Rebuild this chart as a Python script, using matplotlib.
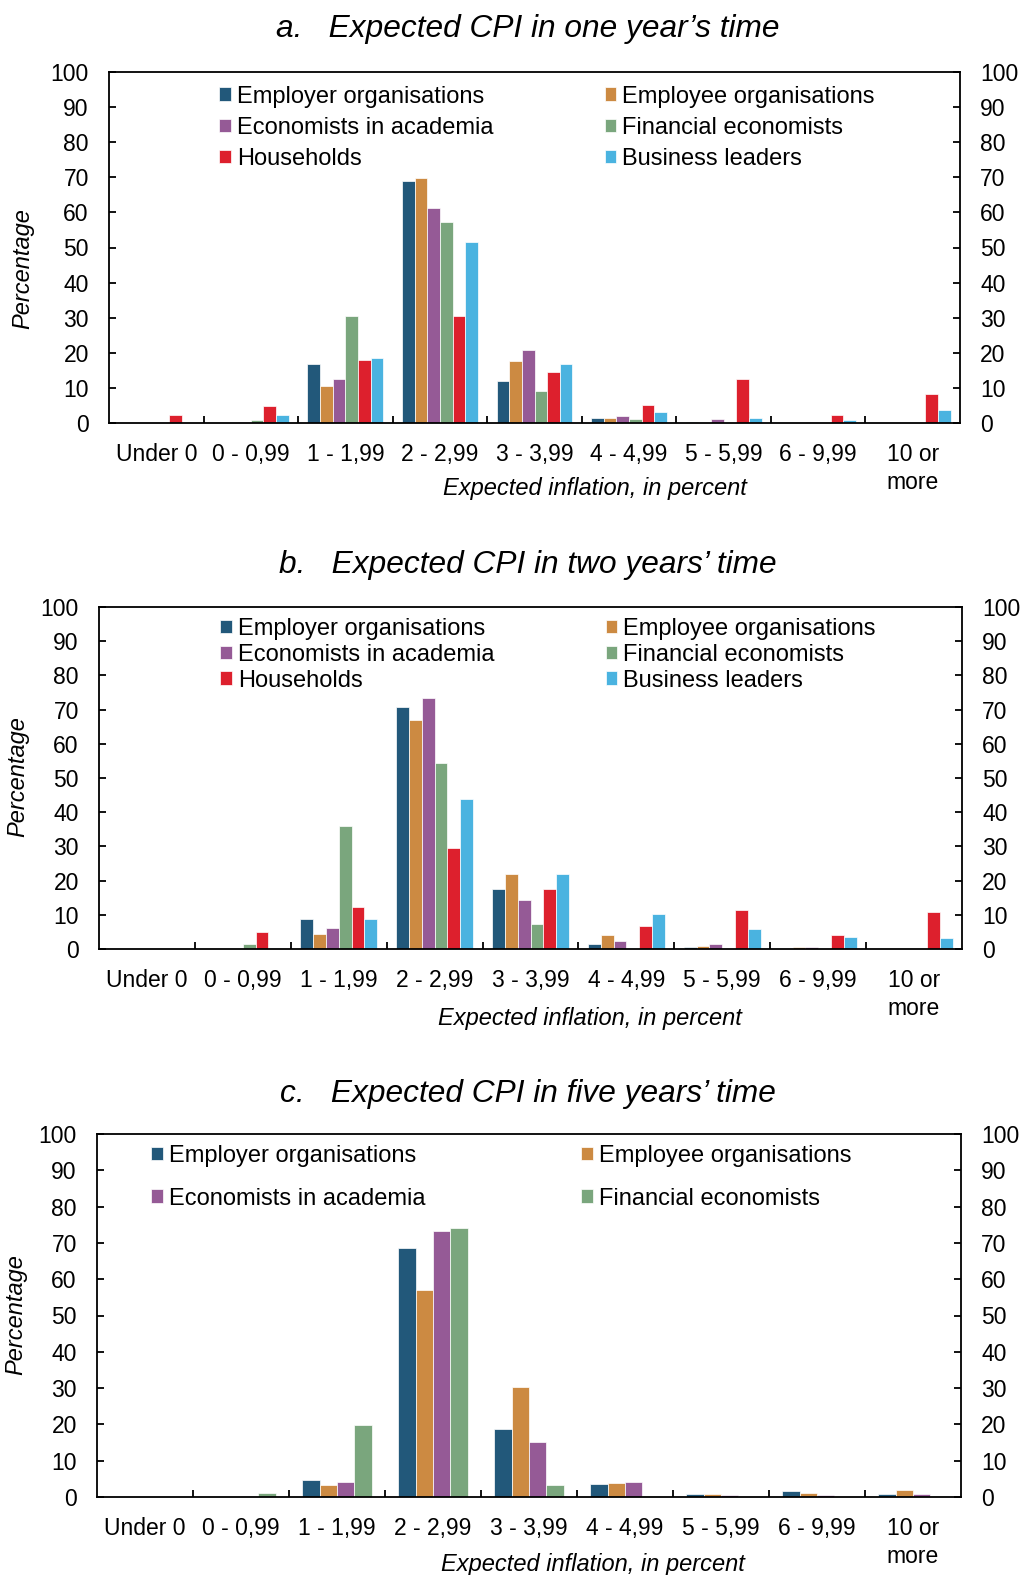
import matplotlib
matplotlib.use("Agg")
import matplotlib.pyplot as plt
import numpy as np

plt.rcParams['font.family'] = ['Liberation Sans', 'DejaVu Sans']

categories = ["Under 0", "0 - 0,99", "1 - 1,99", "2 - 2,99", "3 - 3,99",
              "4 - 4,99", "5 - 5,99", "6 - 9,99", "10 or\nmore"]

series_names = ["Employer organisations", "Employee organisations",
                "Economists in academia", "Financial economists",
                "Households", "Business leaders"]
colors = ["#22587A", "#CC8A42", "#955A96", "#7AA67D", "#DD202D", "#4AB3E0"]

# Panel a: one year
a_employer  = [0.0, 0.0, 16.8, 68.9, 12.0, 1.4, 0.2, 0.0, 0.0]
a_employee  = [0.0, 0.0, 10.4, 69.8, 17.6, 1.4, 0.0, 0.0, 0.0]
a_academia  = [0.0, 0.3, 12.6, 61.2, 20.8, 2.1, 1.1, 0.4, 0.0]
a_financial = [0.0, 0.9, 30.5, 57.3, 9.0, 1.2, 0.0, 0.0, 0.0]
a_household = [2.2, 4.8, 18.0, 30.6, 14.4, 5.1, 12.5, 2.3, 8.4]
a_business  = [0.0, 2.3, 18.5, 51.7, 16.9, 3.1, 1.5, 0.8, 3.7]

# Panel b: two years
b_employer  = [0.0, 0.0, 8.7, 70.8, 17.5, 1.4, 0.6, 0.0, 0.0]
b_employee  = [0.0, 0.0, 4.4, 66.9, 21.8, 4.0, 1.0, 0.7, 0.0]
b_academia  = [0.0, 0.0, 6.1, 73.4, 14.4, 2.3, 1.4, 0.6, 0.0]
b_financial = [0.0, 1.6, 36.0, 54.3, 7.2, 0.0, 0.0, 0.0, 0.0]
b_household = [0.1, 5.1, 12.3, 29.5, 17.5, 6.7, 11.5, 4.2, 10.8]
b_business  = [0.0, 0.4, 8.9, 43.9, 21.9, 10.2, 5.8, 3.6, 3.2]

# Panel c: five years
c_employer  = [0.0, 0.0, 4.7, 68.5, 18.8, 3.5, 0.8, 1.7, 0.8]
c_employee  = [0.0, 0.0, 3.4, 57.1, 30.4, 3.9, 0.8, 1.2, 2.0]
c_academia  = [0.0, 0.2, 4.1, 73.4, 15.1, 4.2, 0.5, 0.5, 0.7]
c_financial = [0.0, 1.2, 19.9, 74.0, 3.2, 0.2, 0.0, 0.0, 0.2]

titles = ["a.   Expected CPI in one year\u2019s time",
          "b.   Expected CPI in two years\u2019 time",
          "c.   Expected CPI in five years\u2019 time"]
yticks = list(range(0, 101, 10))

W, H = 1024, 1575
fig = plt.figure(figsize=(W / 100, H / 100), dpi=100)


def fx(x):
    return x / W


def fy(y):
    return 1 - y / H


panels = [
    dict(data=[a_employer, a_employee, a_academia, a_financial, a_household, a_business],
         box=(109, 960, 72, 423), total=0.803,
         leg=(219, 85.5, 0.39, 4.72), title_y=37, ylab=(23, 269),
         xlab=(595, 495)),
    dict(data=[b_employer, b_employee, b_academia, b_financial, b_household, b_business],
         box=(99, 962, 607, 949), total=0.803,
         leg=(220, 618, 0.16, 4.72), title_y=573, ylab=(18, 777),
         xlab=(590, 1025)),
    dict(data=[c_employer, c_employee, c_academia, c_financial],
         box=(97, 961, 1134, 1497), total=0.72,
         leg=(151, 1145, 0.87, 6.6), title_y=1102, ylab=(16, 1315),
         xlab=(593, 1571)),
]

x = np.arange(len(categories))
for p, title in zip(panels, titles):
    l, r, t, b = p["box"]
    ax = fig.add_axes([fx(l), fy(b), fx(r) - fx(l), (b - t) / H])
    n = len(p["data"])
    w = p["total"] / n
    handles = []
    for i, vals in enumerate(p["data"]):
        bars = ax.bar(x + (i - (n - 1) / 2) * w, vals, width=w, color=colors[i],
                      edgecolor="white", linewidth=0.5, label=series_names[i])
        handles.append(bars)
    ax.set_xlim(-0.5, len(categories) - 0.5)
    ax.set_ylim(0, 100)
    ax.set_yticks(yticks)
    ax.set_xticks(x)
    ax.set_xticklabels(categories, fontsize=16.5, linespacing=1.27)
    ax.set_xticks(np.arange(0.5, len(categories) - 1, 1.0), minor=True)
    ax.tick_params(axis="x", which="major", length=0, pad=14.3)
    ax.tick_params(axis="x", which="minor", direction="in", length=5, width=1.3)
    ax.tick_params(axis="y", which="major", direction="in", length=5, width=1.3,
                   labelsize=16.5, pad=14.5, left=True, right=True,
                   labelleft=True, labelright=True)
    for s in ax.spines.values():
        s.set_linewidth(1.3)
    # legend: columns ordered as in the reference
    if n == 6:
        order = [0, 2, 4, 1, 3, 5]
    else:
        order = [0, 2, 1, 3]
    lx, ly, lsp, csp = p["leg"]
    ax.legend([handles[k] for k in order], [series_names[k] for k in order],
              ncol=2, loc="upper left", bbox_to_anchor=(fx(lx), fy(ly)),
              bbox_transform=fig.transFigure, frameon=False, fontsize=17,
              borderpad=0, borderaxespad=0, handlelength=0.5, handleheight=0.5,
              handletextpad=0.25, labelspacing=lsp, columnspacing=csp)
    fig.text(fx(527.5), fy(p["title_y"]), title, fontsize=22.8, style="italic",
             ha="center", va="baseline")
    fig.text(fx(p["ylab"][0]), fy(p["ylab"][1]), "Percentage", fontsize=17,
             style="italic", rotation=90, ha="center", va="center")
    fig.text(fx(p["xlab"][0]), fy(p["xlab"][1]), "Expected inflation, in percent",
             fontsize=17, style="italic", ha="center", va="baseline")

fig.savefig("out.png", dpi=100)
